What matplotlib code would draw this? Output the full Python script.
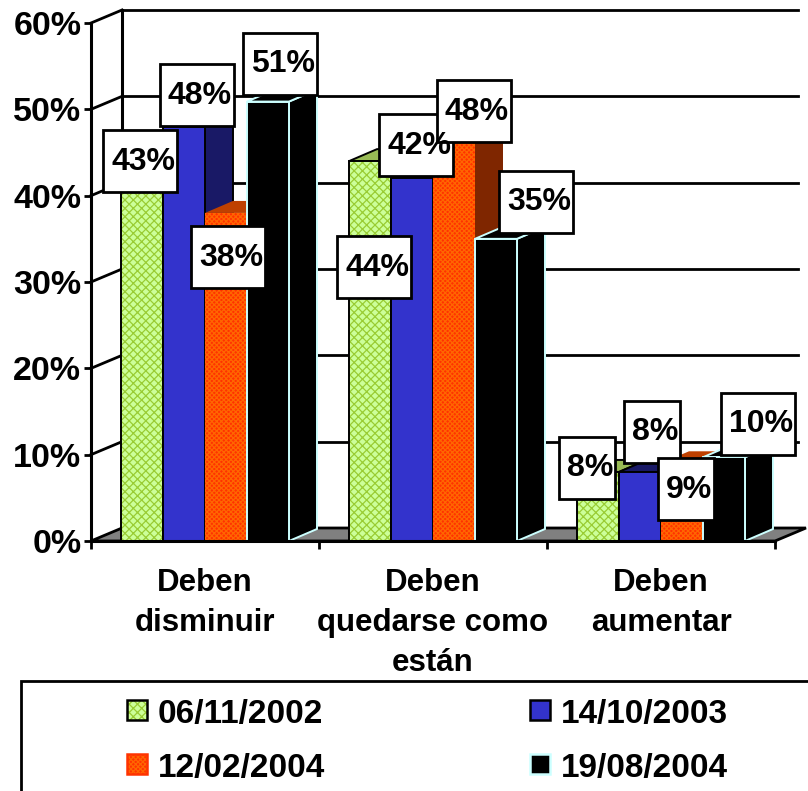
import matplotlib
matplotlib.use('Agg')
import matplotlib.pyplot as plt
from matplotlib.patches import Polygon, Rectangle

plt.rcParams['font.family'] = ['Liberation Sans', 'DejaVu Sans']
plt.rcParams['font.weight'] = 'bold'
plt.rcParams['hatch.linewidth'] = 0.9

categories = ['Deben\ndisminuir', 'Deben\nquedarse como\nestán', 'Deben\naumentar']
dates = ['06/11/2002', '14/10/2003', '12/02/2004', '19/08/2004']
val_a = [43, 44, 8]
val_b = [48, 42, 8]
val_c = [38, 48, 9]
val_d = [50.9, 35, 9.7]
series = [val_a, val_b, val_c, val_d]

# label boxes in pixels, left, top, per series then per group
box_a = [(103, 130), (337, 236), (559, 437)]
box_b = [(160, 64), (379, 114), (624, 401)]
box_c = [(191, 226), (437, 80), (658, 458)]
box_d = [(243, 33), (499, 171), (721, 393)]
boxes = [box_a, box_b, box_c, box_d]

face = ['#CCFF99', '#3333CC', '#FF3300', '#000000']
hatch = ['xxxx', None, 'xxxxxxx', None]
hatch_col = ['#99CC33', '#3333CC', '#FF6600', '#000000']
edge = ['#000000', '#000000', 'none', '#CCFFFF']
side = ['#7F9F4C', '#191966', '#7F2600', '#000000']
top = ['#99BB55', '#191966', '#BF4000', '#000000']

W, H = 808, 791
fig = plt.figure(figsize=(W / 100, H / 100), dpi=100)
fig.patch.set_facecolor('white')

L, R, B, T = 91, 775, 541, 23
ax = fig.add_axes([L / W, 1 - B / H, (R - L) / W, (B - T) / H])
ax.set_xlim(0, 3)
ax.set_ylim(0, 60)
ax.patch.set_visible(False)

px_x = 3 / (R - L)
px_y = 60 / (B - T)
wall_dx, wall_dy = 31 * px_x, 13 * px_y
bar_dx, bar_dy = 28 * px_x, 12 * px_y
bar_w = 42 * px_x
bar_x0 = 30 * px_x

# walls and floor
ax.add_patch(Polygon([(0, 0), (wall_dx, wall_dy), (3 + wall_dx, wall_dy), (3, 0)],
                     fc='#808080', ec='black', lw=2, clip_on=False, zorder=1))
for v in range(10, 70, 10):
    ax.plot([0, wall_dx], [v, v + wall_dy], color='black', lw=2, clip_on=False, zorder=1)
    ax.plot([wall_dx, 3.1], [v + wall_dy, v + wall_dy], color='black', lw=2, clip_on=False, zorder=1)
ax.plot([wall_dx, wall_dx], [wall_dy, 60 + wall_dy], color='black', lw=2.2, clip_on=False, zorder=1)

# bars
for i, vals in enumerate(series):
    for g, v in enumerate(vals):
        x = g + bar_x0 + i * bar_w
        ax.bar(x, v, bar_w, align='edge', color=face[i], edgecolor=hatch_col[i], hatch=hatch[i],
               lw=0, clip_on=False, zorder=2 + g * 4 + i)
        ax.add_patch(Rectangle((x, 0), bar_w, v, fc='none', ec=edge[i], lw=1.4, clip_on=False,
                               zorder=2 + g * 4 + i))
        ax.add_patch(Polygon([(x + bar_w, 0), (x + bar_w + bar_dx, bar_dy),
                              (x + bar_w + bar_dx, v + bar_dy), (x + bar_w, v)],
                             fc=side[i], ec=edge[i], lw=1.4, clip_on=False, zorder=1.5 + g * 4 + i))
        ax.add_patch(Polygon([(x, v), (x + bar_dx, v + bar_dy),
                              (x + bar_w + bar_dx, v + bar_dy), (x + bar_w, v)],
                             fc=top[i], ec=edge[i], lw=1.4, clip_on=False, zorder=1.5 + g * 4 + i))

ax.spines['top'].set_visible(False)
ax.spines['right'].set_visible(False)
ax.spines['left'].set_linewidth(2.2)
ax.spines['bottom'].set_linewidth(2.2)
ax.spines['left'].set_zorder(30)
ax.spines['bottom'].set_zorder(30)

ax.set_yticks(range(0, 70, 10))
ax.set_yticklabels(['%d%%' % v for v in range(0, 70, 10)], fontsize=24.5)
ax.tick_params(axis='y', length=5, width=2, pad=2)
ax.set_xticks([0, 1, 2, 3])
ax.set_xticklabels([])
ax.tick_params(axis='x', which='major', length=6, width=2)
ax.set_xticks([0.5, 1.5, 2.5], minor=True)
ax.set_xticklabels(categories, minor=True, fontsize=22.5, linespacing=1.43)
ax.tick_params(axis='x', which='minor', length=0, pad=19.5)

# overlay in pixels for value boxes and legend
top_ax = fig.add_axes([0, 0, 1, 1])
top_ax.set_xlim(0, W)
top_ax.set_ylim(H, 0)
top_ax.axis('off')

for i, vals in enumerate(series):
    for g, v in enumerate(vals):
        text = '%.0f%%' % v
        w = 56 if len(text) == 2 else 74
        bx, by = boxes[i][g]
        top_ax.add_patch(Rectangle((bx, by), w, 62, fc='white', ec='black', lw=2))
        top_ax.text(bx + w / 2 + 3, by + 28, text, ha='center', va='center_baseline', fontsize=23)

top_ax.add_patch(Rectangle((21, 681), 800, 120, fc='white', ec='black', lw=2, clip_on=True))
leg_x = [127, 127, 530, 530]
leg_y = [700, 754, 700, 754]
leg_order = [0, 2, 1, 3]
leg_edge = ['#000000', '#000000', '#FF3300', '#CCFFFF']
for n, i in enumerate(leg_order):
    top_ax.add_patch(Rectangle((leg_x[n], leg_y[n]), 20, 20, fc=face[i], ec=hatch_col[i], hatch=hatch[i], lw=0))
    top_ax.add_patch(Rectangle((leg_x[n], leg_y[n]), 20, 20, fc='none', ec=leg_edge[i], lw=1.8))
    top_ax.text(leg_x[n] + 31, leg_y[n] + 11, dates[i], ha='left', va='center_baseline', fontsize=24)

fig.savefig('out.png', dpi=100)
